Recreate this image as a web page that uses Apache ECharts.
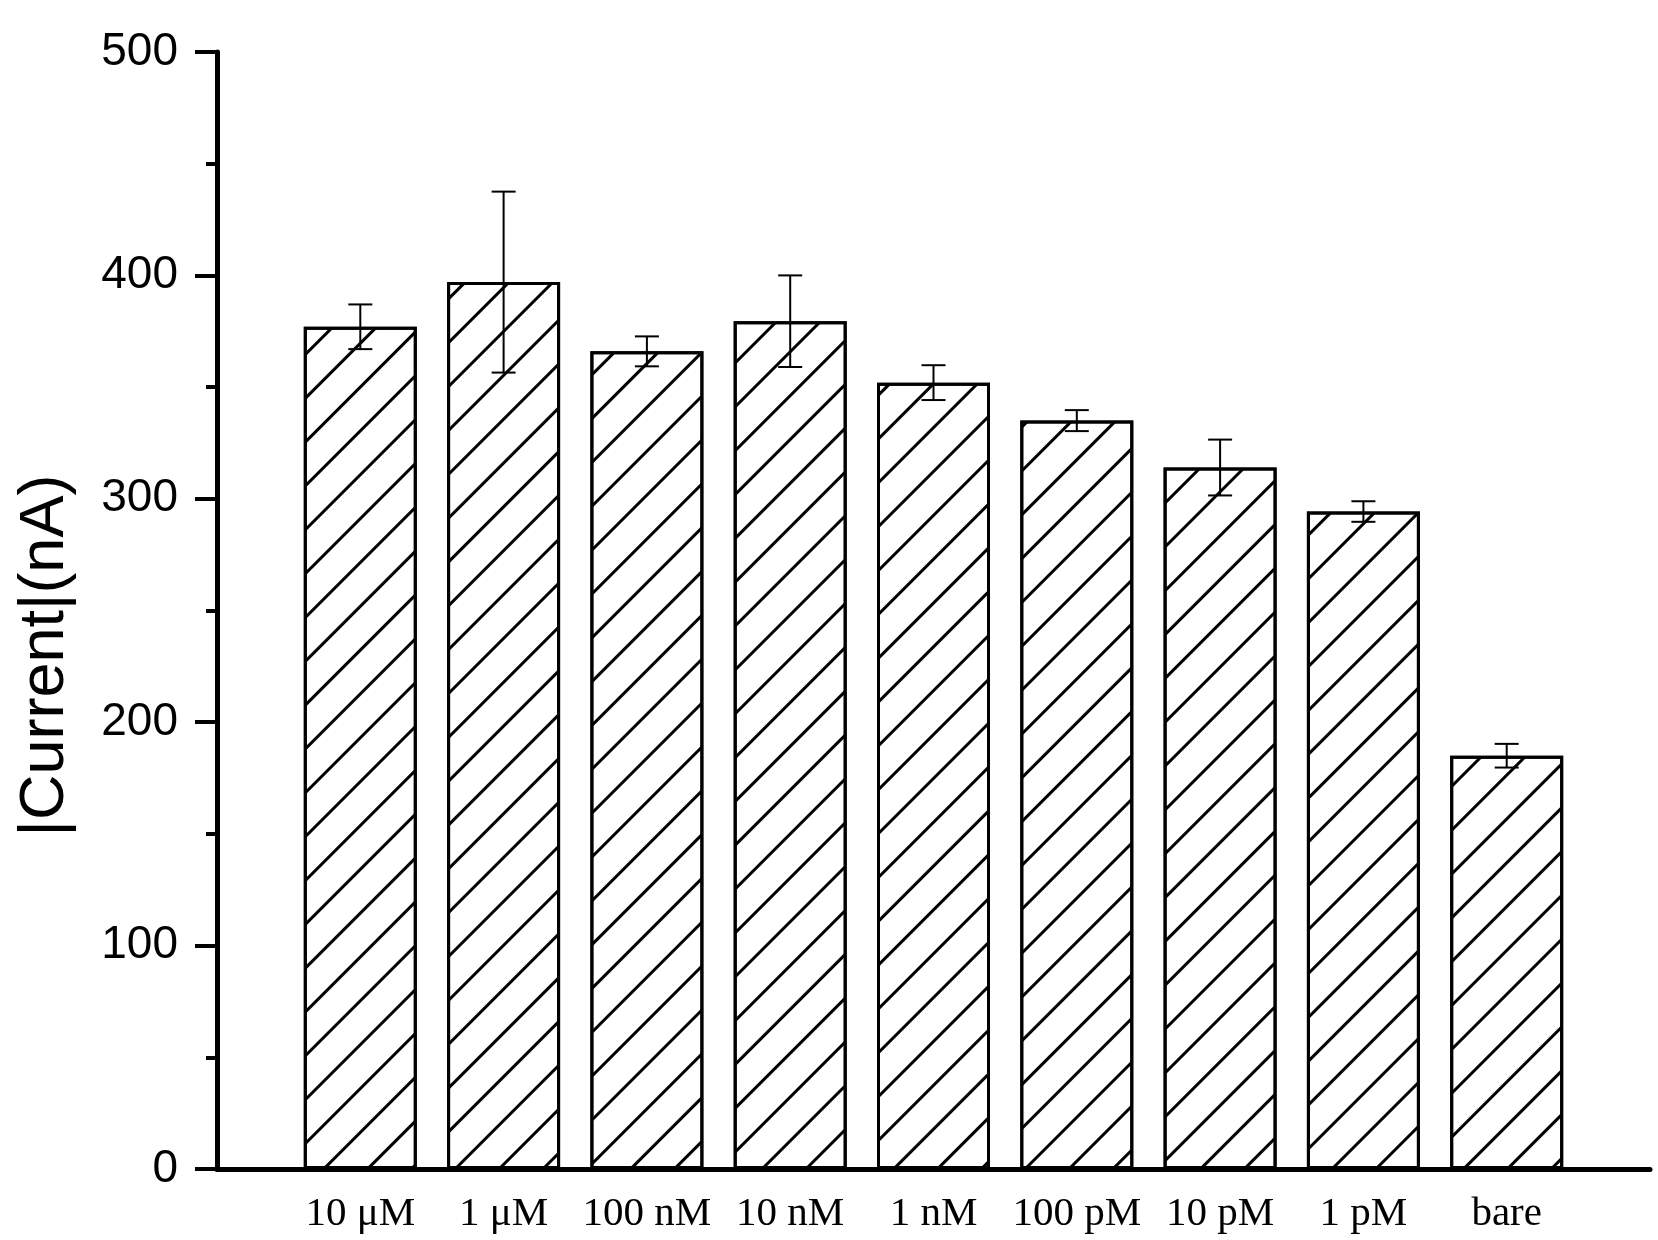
<!DOCTYPE html>
<html>
<head>
<meta charset="utf-8">
<script src="https://cdn.jsdelivr.net/npm/echarts@6/dist/echarts.min.js"></script>
<style>
  html, body { margin: 0; padding: 0; background: #fff; }
  #chart { width: 1658px; height: 1240px; }
</style>
</head>
<body>
<div id="chart"></div>
<script>
// concentrations on the x axis
var categories = ['10 \u03bcM', '1 \u03bcM', '100 nM', '10 nM', '1 nM', '100 pM', '10 pM', '1 pM', 'bare'];
// mean |current| in nA
var currents = [377, 397, 366, 379.5, 352, 335, 314, 294.3, 185];
// error bar half-lengths
var errors = [10, 40.5, 6.7, 20.5, 7.8, 4.7, 12.5, 4.6, 5.3];
var yTicks = [0, 100, 200, 300, 400, 500];

var myChart = echarts.init(document.getElementById('chart'));

var barData = [];
var errData = [];
for (var i = 0; i < categories.length; i++) {
    barData.push([i + 1, currents[i]]);
    errData.push([i + 1, currents[i] - errors[i], currents[i] + errors[i]]);
}

var option = {
    animation: false,
    backgroundColor: '#fff',
    grid: {
        left: 217,
        right: 8,
        top: 52,
        bottom: 71
    },
    xAxis: {
        type: 'value',
        min: 0,
        max: 10,
        interval: 1,
        splitLine: { show: false },
        axisTick: { show: false },
        axisLine: { lineStyle: { color: '#000', width: 5 } },
        axisLabel: {
            margin: 25,
            color: '#000',
            fontFamily: 'Liberation Serif',
            fontSize: 41,
            formatter: function (v) {
                return categories[v - 1] || '';
            }
        }
    },
    yAxis: {
        type: 'value',
        min: yTicks[0],
        max: yTicks[yTicks.length - 1],
        interval: 100,
        name: '|Current|(nA)',
        nameLocation: 'middle',
        nameGap: 140,
        nameTextStyle: {
            color: '#000',
            fontFamily: 'Liberation Sans',
            fontSize: 63,
            padding: [0, 90, 0, 0]
        },
        splitLine: { show: false },
        axisLine: { show: true, lineStyle: { color: '#000', width: 5 } },
        axisTick: { show: true, length: 22, lineStyle: { color: '#000', width: 4 } },
        minorTick: { show: true, splitNumber: 2, length: 11, lineStyle: { color: '#000', width: 4 } },
        axisLabel: {
            margin: 39,
            color: '#000',
            fontFamily: 'Liberation Sans',
            fontSize: 46
        }
    },
    series: [
        {
            type: 'bar',
            data: barData,
            barWidth: 113,
            itemStyle: {
                color: '#fff',
                borderColor: '#000',
                borderWidth: 3,
                decal: {
                    symbol: 'rect',
                    symbolSize: 1,
                    color: '#000',
                    dashArrayX: [1, 0],
                    dashArrayY: [3, 28],
                    rotation: -Math.PI / 4
                }
            }
        },
        {
            type: 'custom',
            data: errData,
            z: 5,
            renderItem: function (params, api) {
                var x = api.value(0);
                var lo = api.coord([x, api.value(1)]);
                var hi = api.coord([x, api.value(2)]);
                var half = 12;
                var style = { stroke: '#000', lineWidth: 2 };
                return {
                    type: 'group',
                    children: [
                        { type: 'line', shape: { x1: hi[0], y1: hi[1], x2: lo[0], y2: lo[1] }, style: style },
                        { type: 'line', shape: { x1: hi[0] - half, y1: hi[1], x2: hi[0] + half, y2: hi[1] }, style: style },
                        { type: 'line', shape: { x1: lo[0] - half, y1: lo[1], x2: lo[0] + half, y2: lo[1] }, style: style }
                    ]
                };
            }
        }
    ]
};

myChart.setOption(option);

window.addEventListener('resize', function () {
    myChart.resize();
});
</script>
</body>
</html>
